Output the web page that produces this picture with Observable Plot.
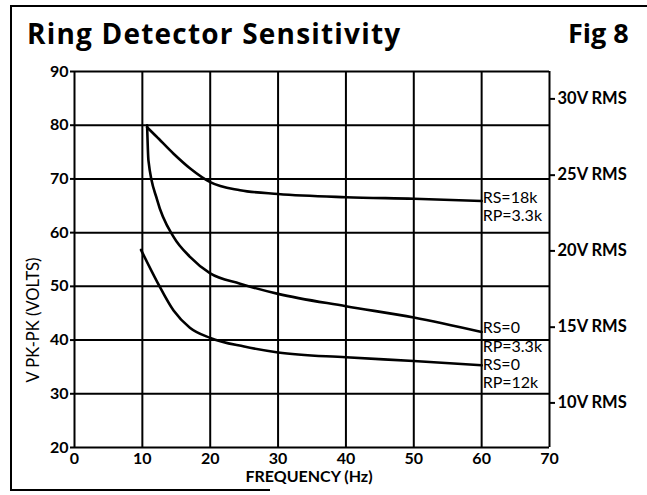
<!DOCTYPE html>
<html>
<head>
<meta charset="utf-8">
<script src="https://cdn.jsdelivr.net/npm/d3@7"></script>
<script src="https://cdn.jsdelivr.net/npm/@observablehq/plot@0.6"></script>
<style>
  html, body { margin: 0; padding: 0; background: #fff; }
  #wrap { position: relative; width: 647px; height: 495px; overflow: hidden; font-family: Lato, "Open Sans", sans-serif; }
  #wrap svg { position: absolute; left: 0; top: 0; }
  .title { position: absolute; top: 19px; font-family: "Open Sans", sans-serif; font-size: 28px; font-weight: bold; color: #000; line-height: 1; }
  .bl { position: absolute; background: #000; }
  .ylab { position: absolute; left: 33px; top: 320px; transform: translate(-50%, -50%) rotate(-90deg); font-size: 16.5px; white-space: nowrap; color: #000; }
</style>
</head>
<body>
<div id="wrap">
  <div class="bl" style="left:10px; top:5px; width:2px; height:486px;"></div>
  <div class="bl" style="left:10px; top:5px; width:640px; height:2px;"></div>
  <div class="bl" style="left:10px; top:489px; width:260px; height:2px;"></div>
  <div class="title" style="left:27px; letter-spacing:1.2px;">Ring Detector Sensitivity</div>
  <div class="title" style="left:568px; font-size:27px;">Fig 8</div>
  <div class="ylab">V PK-PK (VOLTS)</div>
</div>
<script>
// Frequency (Hz) and peak-to-peak voltage
const freqRs18k = [10.7, 12, 14.6, 17.1, 20, 24.4, 30, 40, 50, 60];
const vppRs18k  = [79.6, 78.0, 74.7, 71.9, 69.4, 67.9, 67.2, 66.6, 66.3, 65.9];

const freqRs0Rp33 = [10.7, 10.9, 12.2, 14.6, 17.1, 20, 24.4, 30, 40, 50, 60];
const vppRs0Rp33  = [80, 73.4, 66, 59.2, 55.4, 52.4, 50.5, 48.6, 46.3, 44.2, 41.5];

const freqRs0Rp12 = [9.8, 12.2, 14.6, 17, 20, 25, 30, 40, 50, 60];
const vppRs0Rp12  = [56.8, 50.8, 45.5, 42.3, 40.4, 38.8, 37.7, 36.8, 36.1, 35.3];

const seriesLabels = [["RS=18k", "RP=3.3k"], ["RS=0", "RP=3.3k"], ["RS=0", "RP=12k"]];

const xTicks = [0, 10, 20, 30, 40, 50, 60, 70];
const yTicks = [20, 30, 40, 50, 60, 70, 80, 90];
const rmsTickVpp = [28.3, 42.4, 56.6, 70.7, 84.9];
const rmsTickLabels = ["10V RMS", "15V RMS", "20V RMS", "25V RMS", "30V RMS"];

// curve label anchor values (left edge at x = 60)
const labelX = [60, 60, 60];
const labelY = [[66.5, 63.2], [42.2, 38.7], [35.3, 32.1]];

const toRows = (xs, ys) => xs.map((x, i) => ({x, y: ys[i]}));
const series = [toRows(freqRs18k, vppRs18k), toRows(freqRs0Rp33, vppRs0Rp33), toRows(freqRs0Rp12, vppRs0Rp12)];

const labelRows = [];
seriesLabels.forEach((pair, i) => pair.forEach((t, j) => labelRows.push({x: labelX[i], y: labelY[i][j], t})));

const font = "Lato, 'Open Sans', sans-serif";

const chart = Plot.plot({
  width: 647,
  height: 495,
  marginLeft: 74,
  marginRight: 98,
  marginTop: 71,
  marginBottom: 48,
  style: {fontFamily: font, background: "transparent", color: "#000"},
  x: {domain: [0, 70]},
  y: {domain: [20, 90]},
  marks: [
    Plot.ruleX(xTicks, {y1: 20, y2: 90, stroke: "#000", strokeWidth: 2}),
    Plot.ruleY(yTicks, {x1: 0, x2: 70, stroke: "#000", strokeWidth: 2}),
    Plot.axisY({anchor: "left", ticks: yTicks, tickSize: 4, tickPadding: 2, strokeWidth: 2, label: null,
      fontSize: 16, fontWeight: "bold"}),
    Plot.axisX({anchor: "bottom", ticks: xTicks, tickSize: 0, tickPadding: 5, label: null,
      fontSize: 16, fontWeight: "bold"}),
    Plot.axisY({anchor: "right", ticks: rmsTickVpp, tickSize: 5, tickPadding: 3, strokeWidth: 2, label: null,
      tickFormat: (d, i) => rmsTickLabels[i], fontSize: 16.5, fontWeight: "bold"}),
    ...series.map(s => Plot.line(s, {x: "x", y: "y", curve: "monotone-x", stroke: "#000", strokeWidth: 2.6})),
    Plot.text(labelRows, {x: "x", y: "y", text: "t", textAnchor: "start", dx: 1, fontSize: 16, fill: "#000"}),
    Plot.text(["FREQUENCY (Hz)"], {frameAnchor: "bottom", lineAnchor: "middle", dy: 29, dx: -3, fontSize: 16, fontWeight: "bold", fill: "#000"})
  ]
});
document.getElementById("wrap").prepend(chart);
</script>
</body>
</html>
